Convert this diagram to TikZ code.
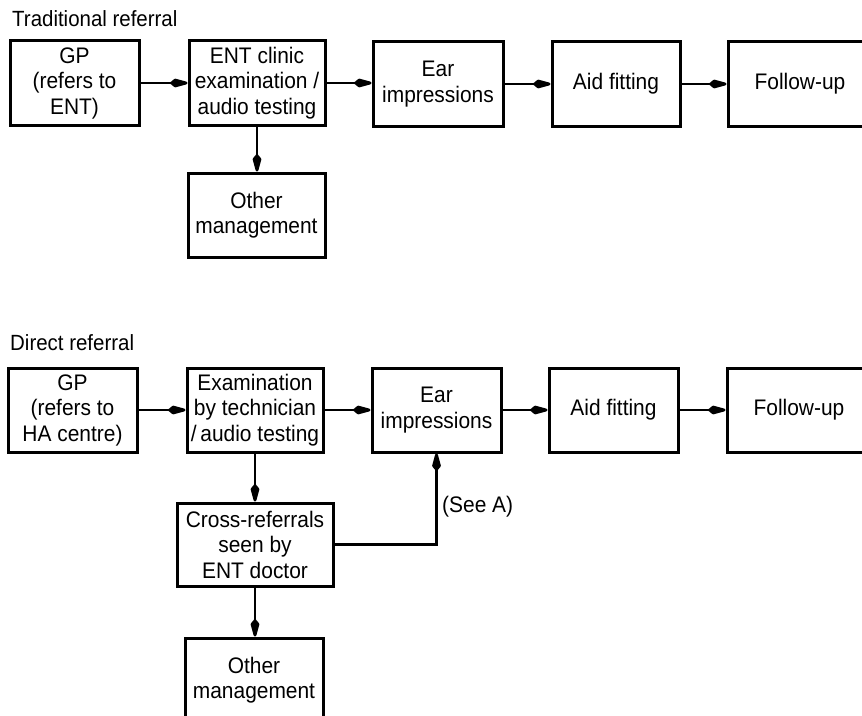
\documentclass[tikz,border=0pt]{standalone}
\usepackage{fontspec}
\setmainfont{Liberation Sans}[FakeStretch=0.93]
\usetikzlibrary{arrows.meta}
\begin{document}
\begin{tikzpicture}[
  box/.style={draw, line width=3pt, inner sep=0pt, align=center,
    font=\fontsize{22.5}{25.5}\selectfont},
  conn/.style={line width=2.8pt, -{Kite[length=22pt,width=9pt,inset=5.5pt,round]}},
  heading/.style={anchor=base west, inner sep=0pt,
    font=\fontsize{22}{25}\selectfont},
  note/.style={anchor=west, inner sep=0pt, font=\fontsize{22.5}{25.5}\selectfont}]
\begin{scope}[x=1pt,y=-1pt]
\useasboundingbox (0,0) rectangle (862,715);
\clip (0,0) rectangle (862,715);
\fill[white] (0,0) rectangle (862,715);

% ---- Traditional referral ----
\node[heading] (t1) at (12,26) {Traditional referral};
\node[box, minimum width=129pt, minimum height=85pt] (gp1) at (74.5,83) {GP\\(refers to\\ENT)};
\node[box, minimum width=136pt, minimum height=85pt] (ent1) at (257,83) {ENT clinic\\examination /\\audio testing};
\node[box, minimum width=130pt, minimum height=85pt] (ear1) at (438,84) {Ear\\impressions};
\node[box, minimum width=128pt, minimum height=85pt] (aid1) at (616,84) {Aid fitting};
\node[box, minimum width=144pt, minimum height=85pt] (fol1) at (800,84) {Follow-up};
\node[box, minimum width=137pt, minimum height=84pt] (oth1) at (256.5,215) {Other\\management};

\draw[conn] (gp1.east) -- (gp1.east -| ent1.west);
\draw[conn] (ent1.east) -- (ent1.east -| ear1.west);
\draw[conn] (ear1.east) -- (ear1.east -| aid1.west);
\draw[conn] (aid1.east) -- (aid1.east -| fol1.west);
\draw[conn] (ent1.south) -- (ent1.south |- oth1.north);

% ---- Direct referral ----
\node[heading] (t2) at (10,350) {Direct referral};
\node[box, minimum width=129pt, minimum height=84pt] (gp2) at (72.5,410) {GP\\(refers to\\HA centre)};
\node[box, minimum width=136pt, minimum height=84pt] (exa2) at (255,410) {Examination\\by technician\\/\,audio testing};
\node[box, minimum width=129pt, minimum height=84pt] (ear2) at (436.5,410) {Ear\\impressions};
\node[box, minimum width=129pt, minimum height=84pt] (aid2) at (613.5,410) {Aid fitting};
\node[box, minimum width=144pt, minimum height=84pt] (fol2) at (799,410) {Follow-up};
\node[box, minimum width=156pt, minimum height=83pt] (crs2) at (255,544.5) {Cross-referrals\\seen by\\ENT doctor};
\node[box, minimum width=138pt, minimum height=84pt] (oth2) at (254,680) {Other\\management};
\node[note] (seeA) at (442,507) {(See A)};

\draw[conn] (gp2.east) -- (gp2.east -| exa2.west);
\draw[conn] (exa2.east) -- (exa2.east -| ear2.west);
\draw[conn] (ear2.east) -- (ear2.east -| aid2.west);
\draw[conn] (aid2.east) -- (aid2.east -| fol2.west);
\draw[conn] (exa2.south) -- (exa2.south |- crs2.north);
\draw[conn] (crs2.south) -- (crs2.south |- oth2.north);
\draw[conn] (crs2.east) -| (ear2.south);
\end{scope}
\end{tikzpicture}
\end{document}
